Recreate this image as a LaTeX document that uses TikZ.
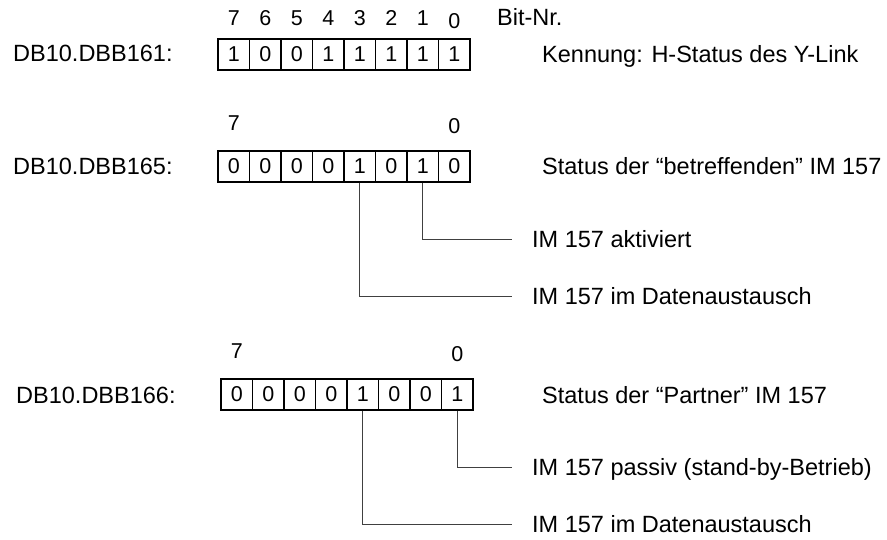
\documentclass[tikz,border=0pt]{standalone}
\usepackage{fontspec}
\setmainfont{Liberation Sans}

\tikzset{
  bitcell/.style={draw, line width=1.2pt, minimum width=31.5pt, minimum height=31pt, inner sep=0pt},
  lead/.style={draw=black!75, line width=1pt},
  txt/.style={anchor=base west, inner sep=0pt, font=\fontsize{23.5}{28}\selectfont}
}

\begin{document}
\begin{tikzpicture}[x=1pt, y=-1pt, font=\fontsize{21.5}{26}\selectfont]

\useasboundingbox (0,0) rectangle (887,540);

% Byte 161: H-Status
\node[txt] (lab161) at (13,62) {DB10.DBB161:};
\foreach \v [count=\k from 0] in {1,0,0,1,1,1,1,1} {
    \pgfmathtruncatemacro{\n}{7-\k}
    \pgfmathsetmacro{\ny}{\n==0 ? 21 : 18}
    \node[bitcell] (a\n) at (233.75+31.5*\k, 54.5) {\v};
    \node (na\n) at (233.75+31.5*\k, \ny) {\n};
}
\node[txt] (bitnr) at (497,26) {Bit-Nr.};
\node[txt] (txt161) at (542,63) {Kennung: H-Status des Y-Link};

% Byte 165: eigene IM 157
\node[txt] (lab165) at (13,175) {DB10.DBB165:};
\foreach \v [count=\k from 0] in {0,0,0,0,1,0,1,0} {
    \pgfmathtruncatemacro{\n}{7-\k}
    \node[bitcell] (b\n) at (233.75+31.5*\k, 166.5) {\v};
}
\node (nb7) at (b7 |- 0,123) {7};
\node (nb0) at (b0 |- 0,126) {0};
\node[txt] (txt165) at (542,175) {Status der “betreffenden” IM 157};

\coordinate (b1end) at (512,240);
\coordinate (b3end) at (512,297);
\draw[lead] (b1.south) |- (b1end);
\draw[lead] (b3.south) |- (b3end);
\node[txt] (akt) at (532,248) {IM 157 aktiviert};
\node[txt] (dat165) at (532,305) {IM 157 im Datenaustausch};

% Byte 166: Partner-IM 157
\node[txt] (lab166) at (16,403) {DB10.DBB166:};
\foreach \v [count=\k from 0] in {0,0,0,0,1,0,0,1} {
    \pgfmathtruncatemacro{\n}{7-\k}
    \node[bitcell] (c\n) at (236.75+31.5*\k, 394.5) {\v};
}
\node (nc7) at (c7 |- 0,351) {7};
\node (nc0) at (c0 |- 0,354) {0};
\node[txt] (txt166) at (542,403) {Status der “Partner” IM 157};

\coordinate (c0end) at (512,467);
\coordinate (c3end) at (512,524);
\draw[lead] (c0.south) |- (c0end);
\draw[lead] (c3.south) |- (c3end);
\node[txt] (pas) at (532,475) {IM 157 passiv (stand-by-Betrieb)};
\node[txt] (dat166) at (532,532) {IM 157 im Datenaustausch};

\end{tikzpicture}
\end{document}
